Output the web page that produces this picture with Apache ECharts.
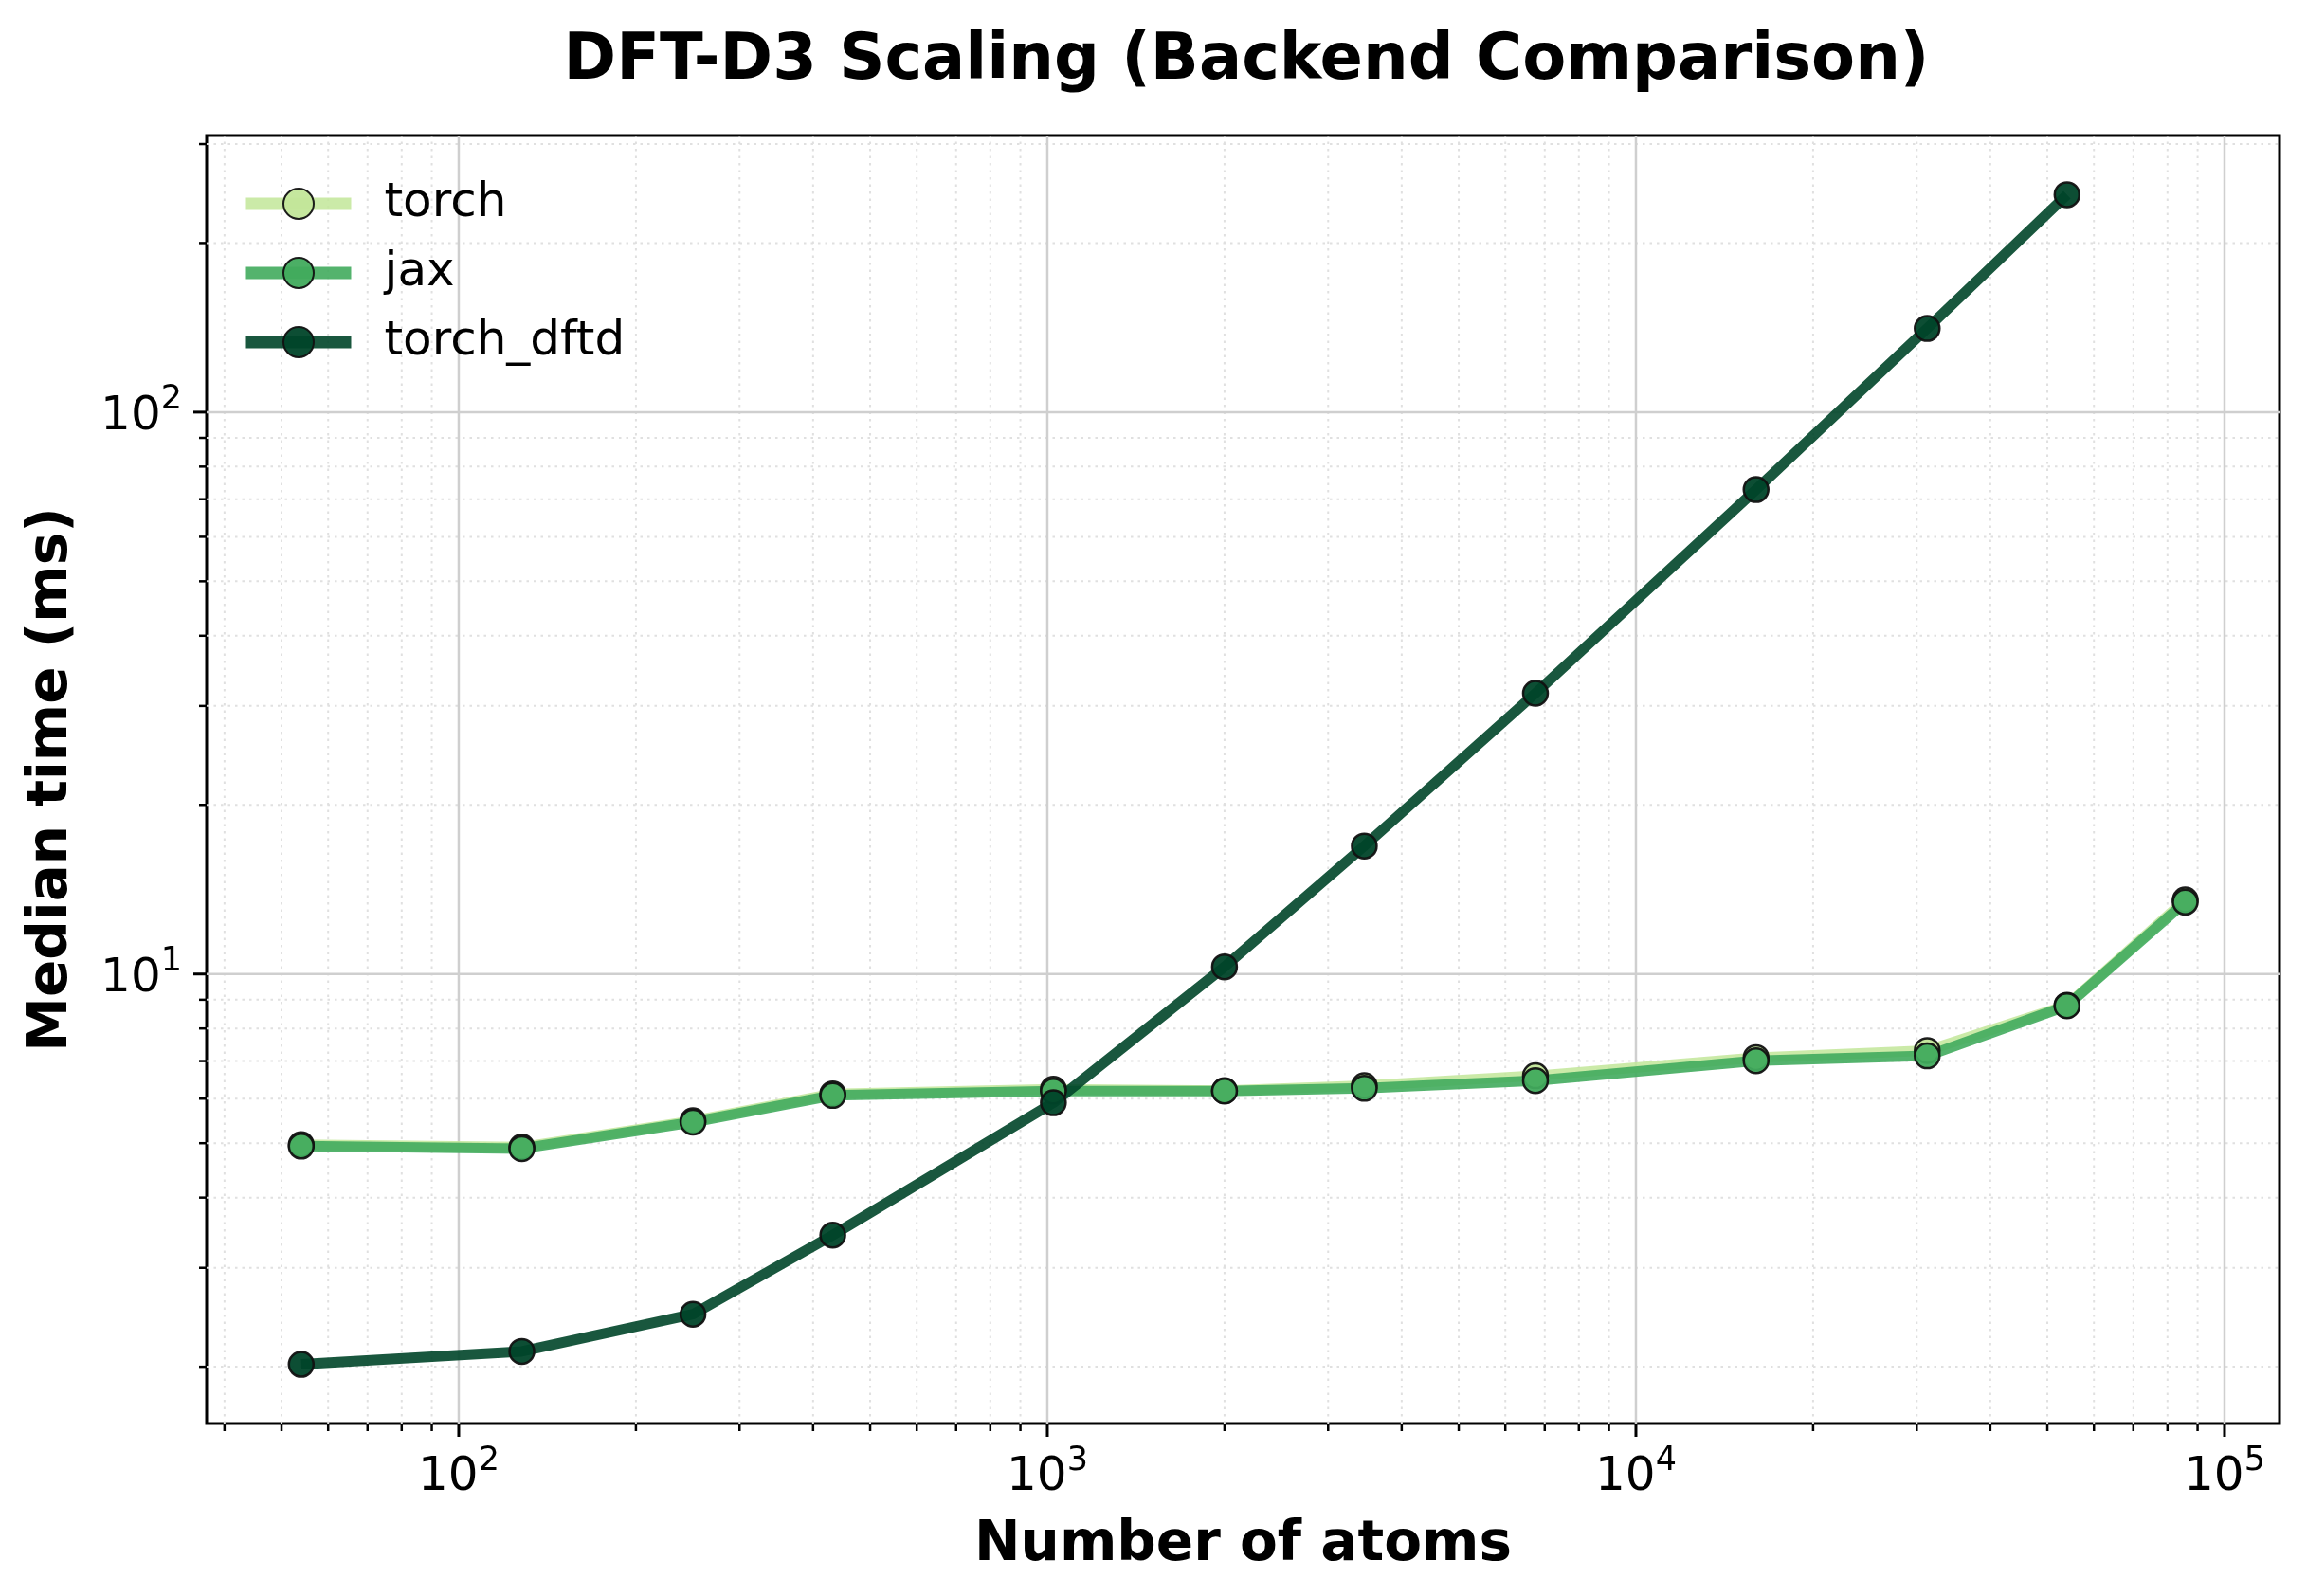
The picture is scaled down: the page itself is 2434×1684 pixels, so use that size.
<!DOCTYPE html>
<html>
<head>
<meta charset="utf-8">
<title>DFT-D3 Scaling (Backend Comparison)</title>
<script src="https://cdn.jsdelivr.net/npm/echarts@6/dist/echarts.min.js"></script>
<style>
  html, body { margin: 0; padding: 0; background: #fff; }
  #chart { width: 2434px; height: 1684px; }
</style>
</head>
<body>
<div id="chart"></div>
<script>
// atoms per system
var atoms = [54, 128, 250, 432, 1024, 2000, 3456, 6750, 16000, 31250, 54000, 85750];
// median time (ms)
var torchMs = [4.97, 4.92, 5.48, 6.12, 6.24, 6.20, 6.33, 6.59, 7.10, 7.31, 8.80, 13.55];
var jaxMs = [4.94, 4.89, 5.45, 6.08, 6.19, 6.19, 6.26, 6.46, 7.01, 7.15, 8.78, 13.43];
var dftdAtoms = [54, 128, 250, 432, 1024, 2000, 3456, 6750, 16000, 31250, 54000];
var dftdMs = [2.02, 2.13, 2.48, 3.43, 5.90, 10.3, 16.9, 31.6, 72.8, 140.9, 243.8];

// axis ranges and ticks
var X_MIN = 37.3, X_MAX = 124000;
var Y_MIN = 1.585, Y_MAX = 310.7;
var xMajorTicks = [100, 1000, 10000, 100000];
var yMajorTicks = [10, 100];
var minorSteps = [2, 3, 4, 5, 6, 7, 8, 9];

function minorTicks(lo, hi) {
  var out = [];
  for (var d = 1; d <= 1e6; d *= 10) {
    minorSteps.forEach(function (k) {
      var v = k * d;
      if (v > lo && v < hi) out.push(v);
    });
  }
  return out;
}
var xMinorTicks = minorTicks(X_MIN, X_MAX);
var yMinorTicks = minorTicks(Y_MIN, Y_MAX);

var FONT = 'DejaVu Sans';

function pairs(xs, ys) {
  return xs.map(function (x, i) { return [x, ys[i]]; });
}

function powLabel(v) {
  var e = Math.round(Math.log10(v));
  if (Math.abs(Math.log10(v) - e) > 1e-6) return '';
  return '{b|10}{s|' + e + '}';
}

var labelRich = {
  b: { fontFamily: FONT, fontSize: 50, color: '#000', lineHeight: 60, verticalAlign: 'bottom' },
  s: { fontFamily: FONT, fontSize: 35, color: '#000', lineHeight: 34, verticalAlign: 'top' }
};

// grid lines + tick marks drawn through the axis scales
function tickSeries(values, axis, major) {
  var gridStyle = major
    ? { stroke: '#cfcfcf', lineWidth: 2.5 }
    : { stroke: '#e0e0e0', lineWidth: 2, lineDash: [2.5, 5] };
  var len = major ? 14 : 8;
  return {
    type: 'custom',
    silent: true,
    clip: false,
    z: 1,
    data: values.map(function (v) { return axis === 'x' ? [v, Y_MIN] : [X_MIN, v]; }),
    renderItem: function (params, api) {
      var a, b, t;
      if (axis === 'x') {
        var xv = api.value(0);
        a = api.coord([xv, Y_MIN]);
        b = api.coord([xv, Y_MAX]);
        t = { x1: a[0], y1: a[1], x2: a[0], y2: a[1] + len };
      } else {
        var yv = api.value(1);
        a = api.coord([X_MIN, yv]);
        b = api.coord([X_MAX, yv]);
        t = { x1: a[0] - len, y1: a[1], x2: a[0], y2: a[1] };
      }
      return {
        type: 'group',
        children: [
          { type: 'line', shape: { x1: a[0], y1: a[1], x2: b[0], y2: b[1] }, style: gridStyle },
          { type: 'line', shape: t, style: { stroke: '#000', lineWidth: major ? 3 : 2.5 } }
        ]
      };
    }
  };
}

function lineSeries(name, data, color, lineOpacity) {
  return {
    name: name,
    type: 'line',
    data: data,
    z: 3,
    symbol: 'circle',
    symbolSize: 26,
    showSymbol: true,
    lineStyle: { color: color, width: 11, opacity: lineOpacity, join: 'round' },
    itemStyle: { color: color, borderColor: '#111', borderWidth: 2.5, opacity: 0.95 },
    emphasis: { disabled: true }
  };
}

var option = {
  animation: false,
  backgroundColor: '#fff',
  title: {
    text: 'DFT-D3 Scaling (Backend Comparison)',
    left: 1310,
    top: 27,
    textAlign: 'center',
    textStyle: { fontFamily: FONT, fontSize: 67, fontWeight: 'bold', color: '#000' }
  },
  legend: {
    orient: 'vertical',
    left: 248,
    top: 185,
    itemWidth: 111,
    itemHeight: 40,
    itemGap: 23,
    data: ['torch', 'jax', 'torch_dftd'],
    lineStyle: { width: 13 },
    textStyle: { fontFamily: FONT, fontSize: 50, color: '#000', padding: [0, 0, 0, 30] }
  },
  grid: {
    left: 218, top: 143, width: 2187, height: 1359,
    show: true, borderColor: '#000', borderWidth: 3,
    outerBoundsMode: 'none'
  },
  xAxis: {
    type: 'log',
    logBase: 10,
    min: X_MIN,
    max: X_MAX,
    name: 'Number of atoms',
    nameLocation: 'middle',
    nameGap: 100,
    nameTextStyle: { fontFamily: FONT, fontSize: 58, fontWeight: 'bold', color: '#000' },
    axisLine: { show: false },
    axisTick: { show: false },
    splitLine: { show: false },
    minorTick: { show: false },
    axisLabel: { margin: 22, formatter: powLabel, rich: labelRich, showMinLabel: true, showMaxLabel: true }
  },
  yAxis: {
    type: 'log',
    logBase: 10,
    min: Y_MIN,
    max: Y_MAX,
    name: 'Median time (ms)',
    nameLocation: 'middle',
    nameGap: 134,
    nameTextStyle: { fontFamily: FONT, fontSize: 58, fontWeight: 'bold', color: '#000' },
    axisLine: { show: false },
    axisTick: { show: false },
    splitLine: { show: false },
    minorTick: { show: false },
    axisLabel: { margin: 26, formatter: powLabel, rich: labelRich }
  },
  series: [
    tickSeries(xMinorTicks, 'x', false),
    tickSeries(yMinorTicks, 'y', false),
    tickSeries(xMajorTicks, 'x', true),
    tickSeries(yMajorTicks, 'y', true),
    lineSeries('torch', pairs(atoms, torchMs), '#c2e699', 0.85),
    lineSeries('jax', pairs(atoms, jaxMs), '#41ab5d', 0.9),
    lineSeries('torch_dftd', pairs(dftdAtoms, dftdMs), '#004529', 0.9)
  ]
};

var chart = echarts.init(document.getElementById('chart'));
chart.setOption(option);
</script>
</body>
</html>
